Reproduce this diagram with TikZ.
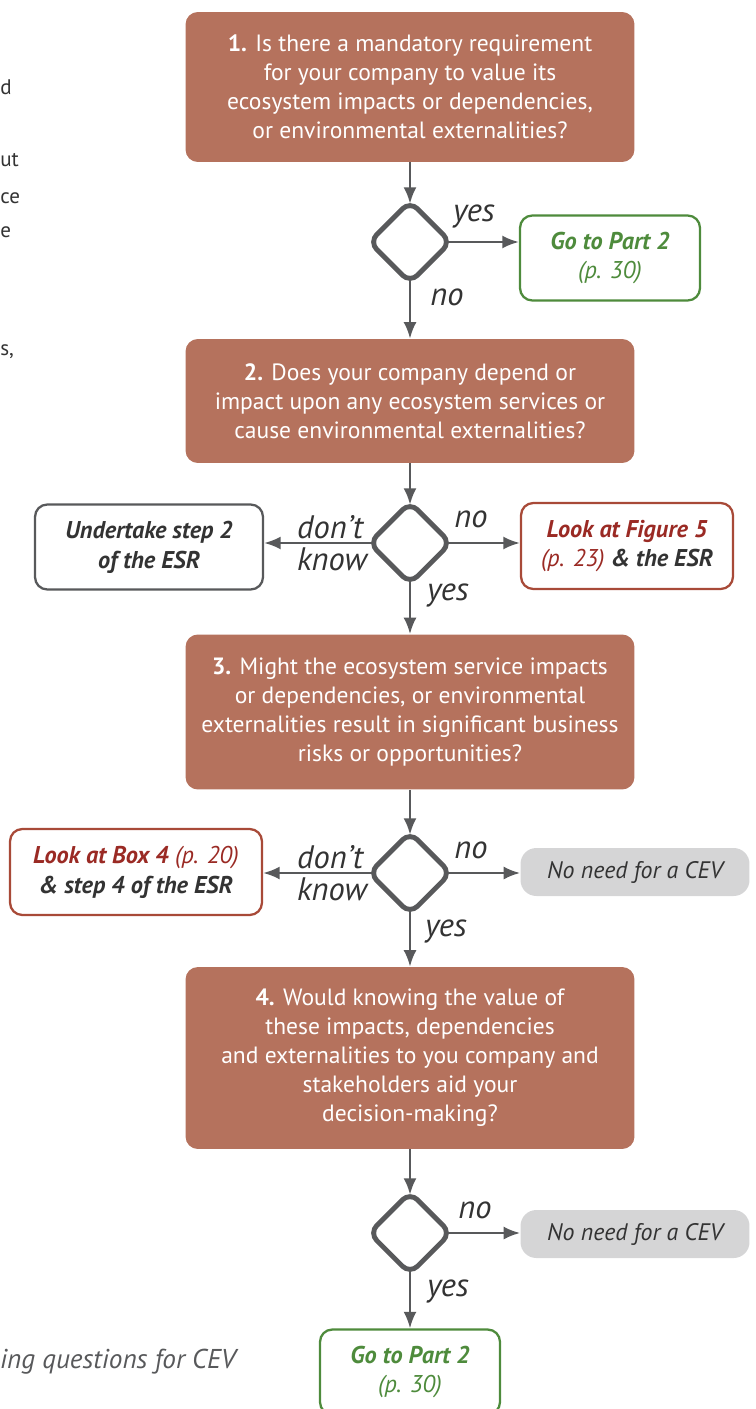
\documentclass[tikz,border=0pt]{standalone}
\usepackage{fontspec}
\setmainfont{PT Sans}
\usetikzlibrary{arrows.meta,positioning,shapes.geometric}
\definecolor{cevbrown}{HTML}{B5725D}
\definecolor{cevink}{HTML}{58595B}
\definecolor{cevgreen}{HTML}{4E8B3C}
\definecolor{cevred}{HTML}{A84A38}
\definecolor{cevredtext}{HTML}{9A2A24}
\definecolor{cevgray}{HTML}{D5D5D6}
\definecolor{cevtext}{HTML}{333333}
\begin{document}
\begin{tikzpicture}[x=0.02cm, y=-0.02cm,
  font=\fontsize{13.4}{16.5}\selectfont,
  question/.style={fill=cevbrown, rounded corners=7pt, minimum width=8.98cm,
    align=center, text=white, inner sep=0pt},
  choice/.style={diamond, draw=cevink, line width=2.8pt, rounded corners=6pt,
    minimum width=1.6cm, minimum height=1.6cm, inner sep=0pt, outer sep=-1pt},
  goto/.style={draw=cevgreen, line width=1.3pt, rounded corners=7pt,
    minimum width=3.6cm, minimum height=1.7cm, align=center, text=cevgreen,
    font=\fontsize{13.8}{17}\selectfont\itshape},
  esrstep/.style={draw=cevink, line width=1.3pt, rounded corners=7pt,
    minimum height=1.7cm, align=center, text=cevtext,
    font=\fontsize{13.8}{17}\selectfont\itshape\bfseries},
  lookat/.style={draw=cevred, line width=1.3pt, rounded corners=7pt,
    minimum height=1.72cm, align=center, text=cevtext,
    font=\fontsize{13.8}{17}\selectfont\itshape},
  noneed/.style={fill=cevgray, rounded corners=9pt, minimum width=4.58cm,
    minimum height=0.96cm, text=cevtext, font=\fontsize{13.6}{17}\selectfont\itshape},
  flow/.style={-{Latex[length=3.3mm, width=2.6mm]}, line width=1.4pt, draw=cevink},
  answer/.style={font=\fontsize{18.5}{18.5}\selectfont\itshape, text=cevtext, align=left, inner sep=0pt},
  cutoff/.style={anchor=west, inner sep=0pt, text=cevtext, font=\fontsize{12}{14}\selectfont}
]
  \useasboundingbox (0,0) rectangle (755,1409);
  \clip (0,0) rectangle (755,1409);

  % main column
  \node[question, minimum height=3cm] (q1) at (410,87)
    {\textbf{1.} Is there a mandatory requirement\\for your company to value its\\ecosystem impacts or dependencies,\\or environmental externalities?};
  \node[choice] (d1) at (410,242) {};
  \node[question, minimum height=2.48cm] (q2) at (410,401)
    {\textbf{2.} Does your company depend or\\impact upon any ecosystem services or\\cause environmental externalities?};
  \node[choice] (d2) at (410,543) {};
  \node[question, minimum height=3.1cm] (q3) at (410,712)
    {\textbf{3.} Might the ecosystem service impacts\\or dependencies, or environmental\\externalities result in significant business\\risks or opportunities?};
  \node[choice] (d3) at (410,873) {};
  \node[question, minimum height=3.64cm] (q4) at (410,1058)
    {\textbf{4.} Would knowing the value of\\these impacts, dependencies\\and externalities to you company and\\stakeholders aid your\\decision-making?};
  \node[choice] (d4) at (410,1233) {};
  \node[goto] (go2) at (410,1372) {\textbf{Go to Part 2}\\(p. 30)};

  % side outcomes
  \node[goto] (go1) at (610,258) {\textbf{Go to Part 2}\\(p. 30)};
  \node[esrstep, minimum width=4.56cm] (esr2) at (149,547) {Undertake step 2\\of the ESR};
  \node[lookat, minimum width=4.24cm] (fig5) at (627,546)
    {\textcolor{cevredtext}{\textbf{Look at Figure 5}}\\\textcolor{cevredtext}{(p. 23)} \textbf{\& the ESR}};
  \node[lookat, minimum width=5.04cm] (box4) at (136,872)
    {\textcolor{cevredtext}{\textbf{Look at Box 4} (p. 20)}\\\textbf{\& step 4 of the ESR}};
  \node[noneed] (none3) at (635,872) {No need for a CEV};
  \node[noneed] (none4) at (635,1234) {No need for a CEV};

  % answers
  \node[answer] (y1) at (474,217) {yes};
  \node[answer] (n1) at (447,297) {no};
  \node[answer] (k2) at (332,543) {don’t\\know};
  \node[answer] (n2) at (471,519) {no};
  \node[answer] (y2) at (448,596) {yes};
  \node[answer] (k3) at (332,873) {don’t\\know};
  \node[answer] (n3) at (471,850) {no};
  \node[answer] (y3) at (446,931) {yes};
  \node[answer] (n4) at (475,1210) {no};
  \node[answer] (y4) at (448,1291) {yes};

  \draw[flow] (q1) -- (d1);
  \draw[flow] (d1.east) -- (d1.east -| go1.west);
  \draw[flow] (d1) -- (q2);
  \draw[flow] (q2) -- (d2);
  \draw[flow] (d2.west) -- (d2.west -| esr2.east);
  \draw[flow] (d2.east) -- (d2.east -| fig5.west);
  \draw[flow] (d2) -- (q3);
  \draw[flow] (q3) -- (d3);
  \draw[flow] (d3.west) -- (d3.west -| box4.east);
  \draw[flow] (d3.east) -- (d3.east -| none3.west);
  \draw[flow] (d3) -- (q4);
  \draw[flow] (q4) -- (d4);
  \draw[flow] (d4.east) -- (d4.east -| none4.west);
  \draw[flow] (d4) -- (go2);

  % text of the page at the left edge
  \node[cutoff] (cut1) at (0,87) {d};
  \node[cutoff] (cut2) at (0,160) {ut};
  \node[cutoff] (cut3) at (0,198) {ce};
  \node[cutoff] (cut4) at (0,232) {e};
  \node[cutoff] (cut5) at (0,352) {s,};
  \node[cutoff, anchor=east, text=cevink, font=\fontsize{15.5}{18}\selectfont\itshape] (cut6) at (236,1362) {ing questions for CEV};
\end{tikzpicture}
\end{document}
